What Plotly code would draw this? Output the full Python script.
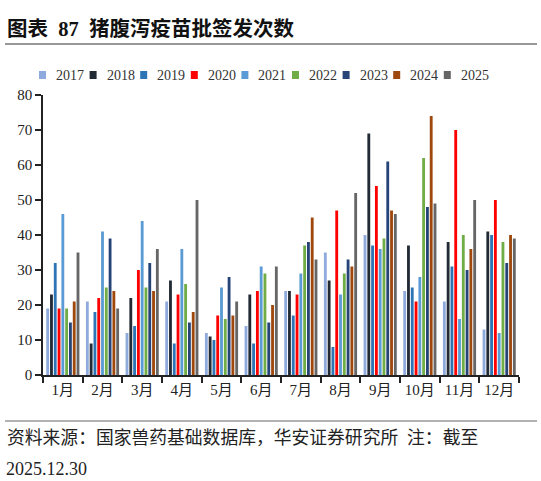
import plotly.graph_objects as go

months = ["1月", "2月", "3月", "4月", "5月", "6月", "7月", "8月", "9月", "10月", "11月", "12月"]
years = ["2017", "2018", "2019", "2020", "2021", "2022", "2023", "2024", "2025"]

v2017 = [19, 21, 12, 21, 12, 14, 24, 35, 40, 24, 21, 13]
v2018 = [23, 9, 22, 27, 11, 23, 24, 27, 69, 37, 38, 41]
v2019 = [32, 18, 14, 9, 10, 9, 17, 8, 37, 25, 31, 40]
v2020 = [19, 22, 30, 23, 17, 24, 23, 47, 54, 21, 70, 50]
v2021 = [46, 41, 44, 36, 25, 31, 29, 23, 36, 28, 16, 12]
v2022 = [19, 25, 25, 26, 16, 29, 37, 29, 39, 62, 40, 38]
v2023 = [15, 39, 32, 15, 28, 15, 38, 33, 61, 48, 30, 32]
v2024 = [21, 24, 24, 18, 17, 20, 45, 31, 47, 74, 36, 40]
v2025 = [35, 19, 36, 50, 21, 31, 33, 52, 46, 49, 50, 39]

series = [v2017, v2018, v2019, v2020, v2021, v2022, v2023, v2024, v2025]
colors = ["#8FAADC", "#222A35", "#2E75B6", "#FF0000", "#5B9BD5",
          "#70AD47", "#264478", "#9E480E", "#666666"]

font_fam = "Liberation Serif, Noto Sans CJK SC, serif"

PL, PR, PT, PB = 43, 519, 95, 375
PW, PH = PR - PL, PB - PT


def px(x):
    return (x - PL) / PW


def py(y):
    return (PB - y) / PH


fig = go.Figure()
for y, vals, c in zip(years, series, colors):
    fig.add_trace(go.Bar(name=y, x=months, y=vals, marker_color=c,
                         marker_line_width=0, showlegend=False))

fig.update_layout(
    width=541, height=481,
    paper_bgcolor="white", plot_bgcolor="white",
    margin=dict(l=PL, r=541 - PR, t=PT, b=481 - PB, autoexpand=False),
    barmode="group", bargap=0.14, bargroupgap=0.25,
    font=dict(family=font_fam, size=15, color="#222"),
    showlegend=False,
)
fig.update_xaxes(showline=True, linecolor="#222", linewidth=1.5,
                 ticks="outside", tickson="boundaries", ticklen=6,
                 tickcolor="#222", tickwidth=1.5,
                 tickfont=dict(size=15, color="#222"))
fig.update_yaxes(range=[0, 80], dtick=10, showline=True, linecolor="#222",
                 linewidth=1.5, ticks="outside", ticklen=6, tickcolor="#222",
                 tickwidth=1.5, showgrid=False, zeroline=False,
                 tickfont=dict(size=15, color="#222"))

# legend (drawn as squares + labels)
for i, (yname, c) in enumerate(zip(years, colors)):
    x0 = 39 + 50.6 * i
    fig.add_shape(type="rect", xref="paper", yref="paper",
                  x0=px(x0), x1=px(x0 + 7), y0=py(79), y1=py(71),
                  fillcolor=c, line=dict(width=0))
    fig.add_annotation(text=yname, xref="paper", yref="paper",
                       x=px(x0 + 15), y=py(75.5), xanchor="left", yanchor="middle",
                       showarrow=False, font=dict(size=14, color="#333"))

fig.add_annotation(text="<b>图表  87  猪腹泻疫苗批签发次数</b>", xref="paper", yref="paper",
                   x=px(5), y=py(29), xanchor="left", yanchor="middle",
                   showarrow=False, font=dict(size=20.5, color="#111", family=font_fam))
fig.add_shape(type="line", xref="paper", yref="paper",
              x0=px(5), x1=px(537), y0=py(44), y1=py(44),
              line=dict(color="#333", width=1.2))
fig.add_shape(type="line", xref="paper", yref="paper",
              x0=px(5), x1=px(537), y0=py(421), y1=py(421),
              line=dict(color="#666", width=1.2))
fig.add_annotation(text="资料来源：国家兽药基础数据库，华安证券研究所  注：截至", xref="paper", yref="paper",
                   x=px(5), y=py(438), xanchor="left", yanchor="middle",
                   showarrow=False, font=dict(size=17.8, color="#222", family=font_fam))
fig.add_annotation(text="2025.12.30", xref="paper", yref="paper",
                   x=px(4), y=py(469), xanchor="left", yanchor="middle",
                   showarrow=False, font=dict(size=18, color="#222", family=font_fam))

fig.write_html("out.html", config={"displayModeBar": False},
               post_script="document.body.style.margin='0';")
